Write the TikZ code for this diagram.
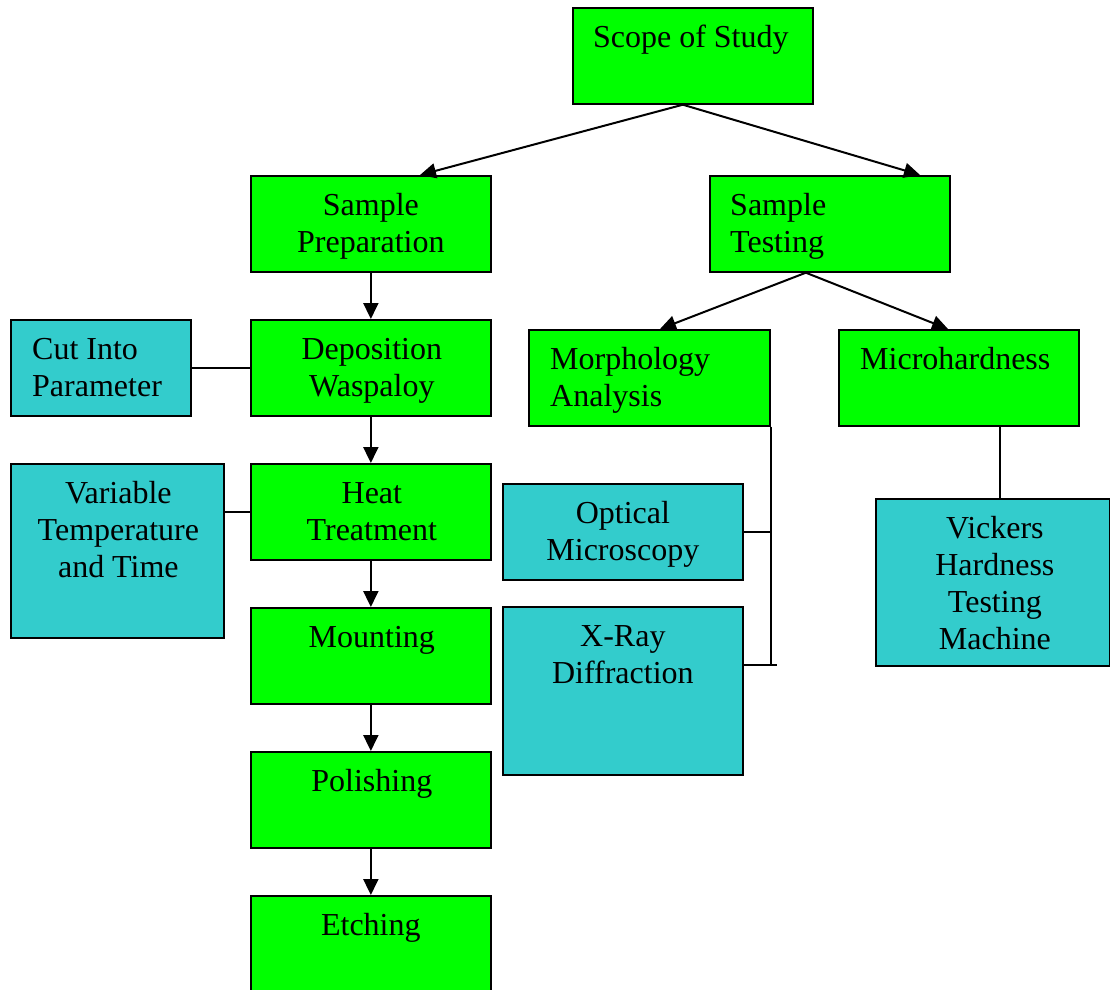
\documentclass[tikz,border=0pt]{standalone}
\usepackage{fontspec}
\setmainfont{Liberation Serif}
\usetikzlibrary{arrows.meta,calc}
\definecolor{boxgreen}{HTML}{00FF00}
\definecolor{boxcyan}{HTML}{33CCCC}
\tikzset{
  gbox/.style={draw=black, line width=1.7pt, fill=boxgreen, anchor=north west, inner sep=0pt, minimum width=240pt, minimum height=96pt},
  cbox/.style={draw=black, line width=1.7pt, fill=boxcyan, anchor=north west, inner sep=0pt},
  txt/.style={inner sep=0pt, anchor=north, align=center, font=\fontsize{32}{37}\selectfont},
  ltxt/.style={inner sep=0pt, anchor=north west, align=left, font=\fontsize{32}{37}\selectfont},
  arr/.style={line width=2pt, -{Triangle[length=16pt,width=15pt]}},
  conn/.style={line width=2pt},
}
\newcommand{\fl}{\rule{0pt}{24pt}}
\begin{document}
\begin{tikzpicture}[x=1pt,y=-1pt]
\useasboundingbox (0,0) rectangle (1110,989);
% boxes
\node[gbox] (scope) at (572,7) {};
\node[gbox] (sp) at (250,175) {};
\node[gbox] (st) at (709,175) {};
\node[gbox] (dep) at (250,319) {};
\node[cbox, minimum width=180pt, minimum height=96pt] (cut) at (10,319) {};
\node[gbox] (heat) at (250,463) {};
\node[cbox, minimum width=213pt, minimum height=174pt] (var) at (10,463) {};
\node[gbox] (mount) at (250,607) {};
\node[gbox] (pol) at (250,751) {};
\node[gbox, minimum height=104pt] (etch) at (250,895) {};
\node[gbox, minimum width=241pt] (morph) at (528,329) {};
\node[gbox] (micro) at (838,329) {};
\node[cbox, minimum width=240pt, minimum height=96pt] (opt) at (502,483) {};
\node[cbox, minimum width=240pt, minimum height=168pt] (xray) at (502,606) {};
\node[cbox, minimum width=234pt, minimum height=167pt] (vick) at (875,498) {};
% texts
\node[txt] (scope-t) at ($(scope.north)+(-2,16)$) {\fl Scope of Study};
\node[txt] (sp-t) at ($(sp.north)+(0,16)$) {\fl Sample\\Preparation};
\node[ltxt] (st-t) at ($(st.north west)+(21,16)$) {\fl Sample\\Testing};
\node[txt] (dep-t) at ($(dep.north)+(1,16)$) {\fl Deposition\\Waspaloy};
\node[ltxt] (cut-t) at ($(cut.north west)+(22,16)$) {\fl Cut Into\\Parameter};
\node[txt] (heat-t) at ($(heat.north)+(1,16)$) {\fl Heat\\Treatment};
\node[txt] (var-t) at ($(var.north)+(1,16)$) {\fl Variable\\Temperature\\and Time};
\node[txt] (mount-t) at ($(mount.north)+(1,16)$) {\fl Mounting};
\node[txt] (pol-t) at ($(pol.north)+(1,16)$) {\fl Polishing};
\node[txt] (etch-t) at ($(etch.north)+(0,16)$) {\fl Etching};
\node[ltxt] (morph-t) at ($(morph.north west)+(22,16)$) {\fl Morphology\\Analysis};
\node[ltxt] (micro-t) at ($(micro.north west)+(22,16)$) {\fl Microhardness};
\node[txt] (opt-t) at ($(opt.north)+(0,16)$) {\fl Optical\\Microscopy};
\node[txt] (xray-t) at ($(xray.north)+(0,16)$) {\fl X-Ray\\Diffraction};
\node[txt] (vick-t) at ($(vick.north)+(2,16)$) {\fl Vickers\\Hardness\\Testing\\Machine};
% connectors
\draw[arr] ($(scope.south)+(-10,0)$) -- ($(sp.north west)+(170,0)$);
\draw[arr] ($(scope.south)+(-10,0)$) -- ($(st.north west)+(211,0)$);
\draw[arr] ($(st.south)+(-24,0)$) -- ($(morph.north west)+(132,0)$);
\draw[arr] ($(st.south)+(-24,0)$) -- ($(micro.north west)+(110,0)$);
\draw[arr] (sp.south) -- (dep.north);
\draw[arr] (dep.south) -- (heat.north);
\draw[arr] (heat.south) -- (mount.north);
\draw[arr] (mount.south) -- (pol.north);
\draw[arr] (pol.south) -- (etch.north);
\draw[conn] (cut.east) -- (dep.west);
\draw[conn] (heat.west) -- (heat.west -| var.east);
\coordinate (xr) at ($(xray.north east)+(0,59)$);
\draw[conn] (morph.south east) -- (morph.south east |- xr);
\draw[conn] (opt.east) -- (opt.east -| morph.east);
\draw[conn] (xr) -- ($(xr -| morph.east)+(6,0)$);
\draw[conn] ($(micro.south west)+(162,0)$) -- ($(vick.north west)+(125,0)$);
\end{tikzpicture}
\end{document}
